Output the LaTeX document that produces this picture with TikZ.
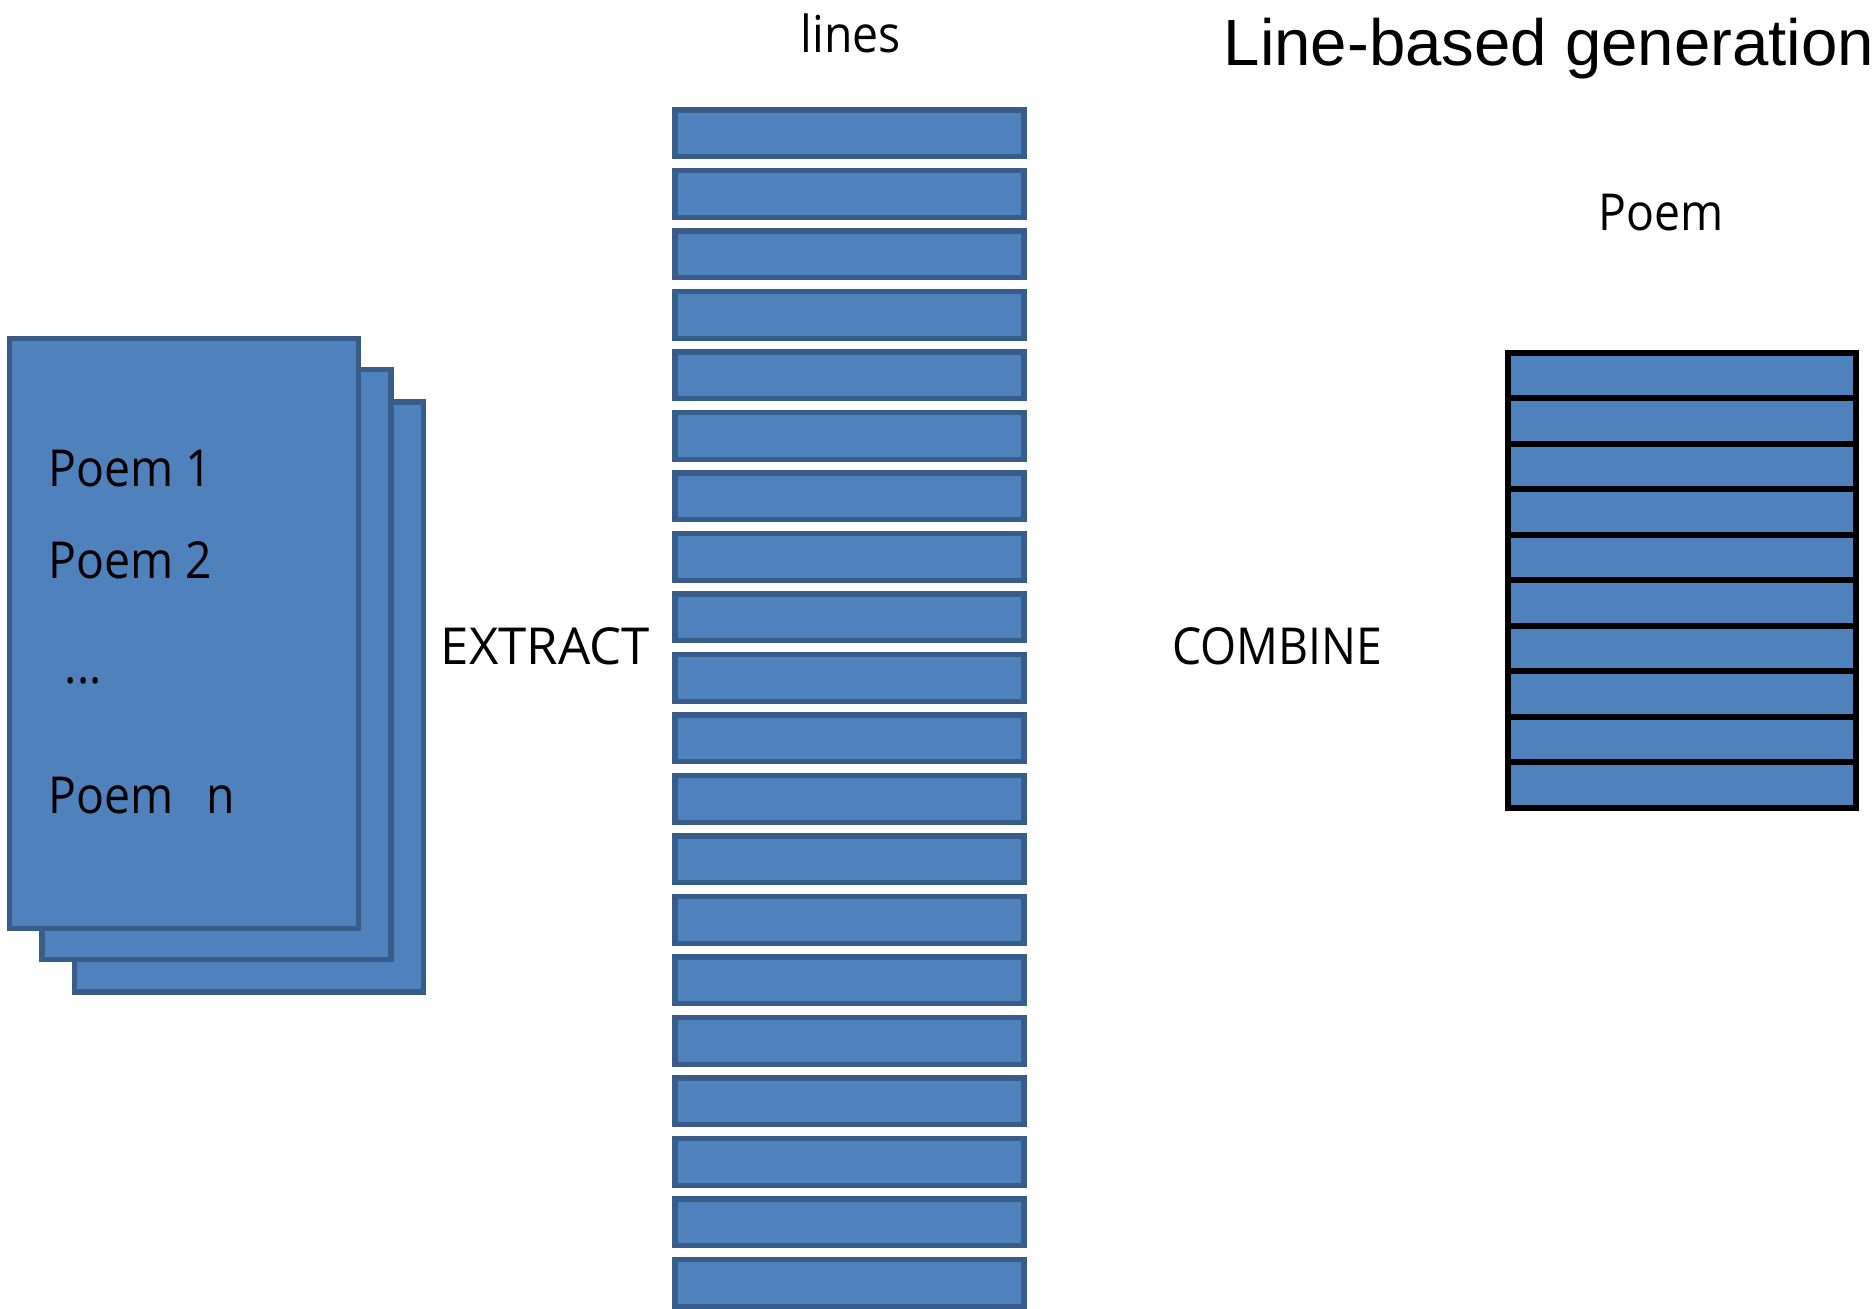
\documentclass[tikz,border=0pt]{standalone}
\usepackage{fontspec}
\setmainfont{Open Sans}[FakeStretch=0.91]
\newfontfamily\capsfont{Open Sans}
\newfontfamily\titlefont{Liberation Sans}
\usetikzlibrary{positioning}
\definecolor{boxfill}{HTML}{4F81BD}
\definecolor{boxline}{HTML}{385D8A}
\tikzstyle{page} = [draw=boxline, fill=boxfill, line width=1.5pt, rectangle, minimum width=3.49cm, minimum height=5.9cm, inner sep=0pt]
\tikzstyle{linebox} = [draw=boxline, fill=boxfill, line width=1.5pt, rectangle, minimum width=3.49cm, minimum height=0.467cm, inner sep=0pt]
\tikzstyle{rowbox} = [draw=black, fill=boxfill, line width=1.7pt, rectangle, minimum width=3.48cm, minimum height=0.455cm, inner sep=0pt]
\tikzstyle{txt} = [inner sep=0pt, font=\fontsize{14.5}{17}\selectfont]

\begin{document}
\begin{tikzpicture}[node distance=0.91cm]
\useasboundingbox (0,0) rectangle (18.76,-13.09);

% stack of pages, back one first
\node [page] (page3) at (2.489,-6.969) {};
\node [page] (page2) at (2.165,-6.646) {};
\node [page] (page1) at (1.843,-6.335) {};

\node [txt, anchor=base west] (poem1) at (0.479,-4.87) {Poem 1};
\node [txt, anchor=base west, below of=poem1] (poem2) {Poem 2};
\node [txt, anchor=base west] (dots) at (0.64,-6.84) {...};
\node [txt, anchor=base west] (poemn) at (0.479,-8.136) {Poem\hspace*{0.33cm}n};

\node [txt, font=\capsfont\fontsize{14.5}{17}\selectfont] (extract) at (5.455,-6.46) {EXTRACT};

% the extracted lines
\node [txt] (lines) at (8.506,-0.335) {lines};
\foreach \i in {1,...,20}
  \node [linebox] (line\i) at (8.495,{-1.334-0.605*(\i-1)}) {};

\node [txt] (combine) at (12.775,-6.46) {COMBINE};

% the generated poem
\node [txt] (poem) at (16.61,-2.13) {Poem};
\foreach \i in {1,...,10}
  \node [rowbox] (row\i) at (16.815,{-3.757-0.455*(\i-1)}) {};

\node [inner sep=0pt, anchor=base west, font=\titlefont\fontsize{18.6}{22}\selectfont] (title) at (12.23,-0.658) {Line-based generation};
\end{tikzpicture}
\end{document}
